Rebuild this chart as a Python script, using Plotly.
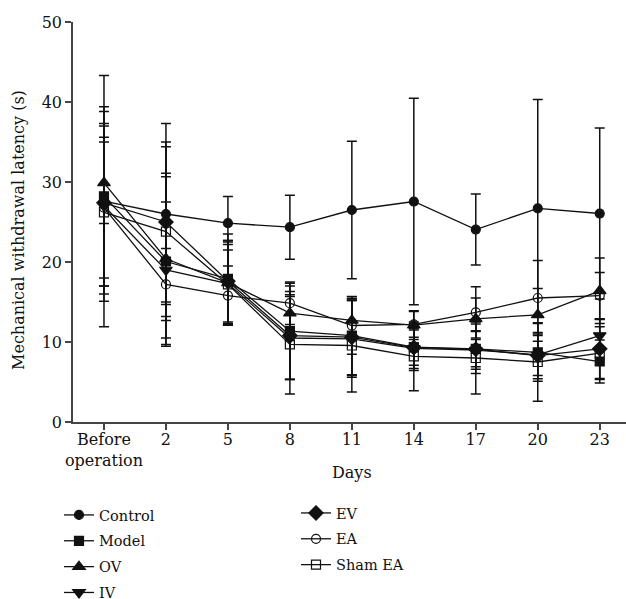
import plotly.graph_objects as go

days = ["Before<br>operation", "2", "5", "8", "11", "14", "17", "20", "23"]

control_mean = [27.6, 26.0, 24.85, 24.35, 26.5, 27.56, 24.06, 26.7, 26.06]
control_sd = [15.7, 11.3, 3.35, 4.0, 8.6, 12.9, 4.45, 13.6, 10.7]

model_mean = [28.2, 20.06, 17.9, 11.35, 10.8, 9.35, 9.15, 8.7, 7.56]
model_sd = [11.2, 10.6, 5.6, 6.0, 4.9, 2.9, 3.1, 3.6, 2.7]

ov_mean = [29.9, 20.4, 17.4, 13.6, 12.7, 12.1, 12.9, 13.4, 16.4]
ov_sd = [5.1, 10.7, 5.3, 3.4, 2.5, 1.8, 2.6, 3.3, 4.1]

iv_mean = [27.0, 19.0, 17.3, 10.5, 10.4, 9.2, 9.0, 8.4, 10.8]
iv_sd = [10.0, 8.5, 5.2, 5.2, 4.8, 2.5, 2.4, 2.6, 2.0]

ev_mean = [27.4, 25.0, 17.6, 10.8, 10.6, 9.3, 9.1, 8.3, 9.15]
ev_sd = [11.4, 10.0, 5.1, 5.5, 4.8, 2.2, 2.2, 2.9, 3.7]

ea_mean = [26.8, 17.2, 15.8, 14.85, 12.06, 12.2, 13.7, 15.5, 15.8]
ea_sd = [8.8, 4.5, 3.7, 2.65, 3.6, 1.6, 3.2, 4.7, 2.9]

sham_mean = [26.2, 23.8, 17.2, 9.7, 9.56, 8.2, 8.0, 7.5, 8.6]
sham_sd = [11.1, 10.6, 5.0, 6.2, 5.8, 4.3, 4.5, 4.9, 3.3]

y_ticks = [0, 10, 20, 30, 40, 50]
x_title = "Days"
y_title = "Mechanical withdrawal latency (s)"

series = [
    ("Control", control_mean, control_sd, "circle", "legend"),
    ("Model", model_mean, model_sd, "square", "legend"),
    ("OV", ov_mean, ov_sd, "triangle-up", "legend"),
    ("IV", iv_mean, iv_sd, "triangle-down", "legend"),
    ("EV", ev_mean, ev_sd, "diamond", "legend2"),
    ("EA", ea_mean, ea_sd, "circle-open", "legend2"),
    ("Sham EA", sham_mean, sham_sd, "square-open", "legend2"),
]

FONT = "DejaVu Serif"
fig = go.Figure()
for name, mean, sd, sym, leg in series:
    size = 9
    if sym == "diamond" or sym.startswith("triangle"):
        size = 11
    fig.add_trace(go.Scatter(
        x=days, y=mean, name=name, mode="lines+markers",
        legend=leg, legendgroup=name,
        line=dict(color="#111111", width=1.3),
        marker=dict(symbol=sym, size=size, color="#111111",
                    line=dict(color="#111111", width=1.2)),
        error_y=dict(type="data", array=sd, visible=True, color="#111111",
                     thickness=1.5, width=5),
    ))

leg_font = dict(family=FONT, size=14.5, color="#111111")
fig.update_layout(
    width=626, height=599,
    margin=dict(l=73, r=0, t=22, b=177, autoexpand=False),
    paper_bgcolor="white", plot_bgcolor="white",
    font=dict(family=FONT, size=16, color="#111111"),
    showlegend=True,
    legend=dict(xref="container", yref="container",
                x=59 / 626, y=1 - 499 / 599, xanchor="left", yanchor="top",
                bgcolor="rgba(0,0,0,0)", tracegroupgap=4, font=leg_font),
    legend2=dict(xref="container", yref="container",
                 x=296 / 626, y=1 - 497 / 599, xanchor="left", yanchor="top",
                 bgcolor="rgba(0,0,0,0)", tracegroupgap=4, font=leg_font),
    xaxis=dict(
        type="category", range=[-0.5, 8.424],
        showline=True, linecolor="#444444", linewidth=1.5,
        ticks="outside", ticklen=6, tickcolor="#444444", tickwidth=1.5,
        ticklabelstandoff=-4,
        showgrid=False, zeroline=False,
        tickfont=dict(family=FONT, size=16),
    ),
    yaxis=dict(
        range=[0, 50], tickvals=y_ticks,
        showline=True, linecolor="#444444", linewidth=1.5,
        ticks="outside", ticklen=6, tickcolor="#444444", tickwidth=1.5,
        showgrid=False, zeroline=False,
        tickfont=dict(family=FONT, size=16),
    ),
    annotations=[
        dict(text=x_title, xref="paper", yref="paper", x=0.505, y=-0.1263,
             xanchor="center", yanchor="middle", showarrow=False,
             font=dict(family=FONT, size=16, color="#111111")),
        dict(text=y_title, xref="paper", yref="paper", x=-0.0995, y=0.48,
             xanchor="center", yanchor="middle", textangle=-90, showarrow=False,
             font=dict(family=FONT, size=16, color="#111111")),
    ],
)

fig.write_html("out.html")
